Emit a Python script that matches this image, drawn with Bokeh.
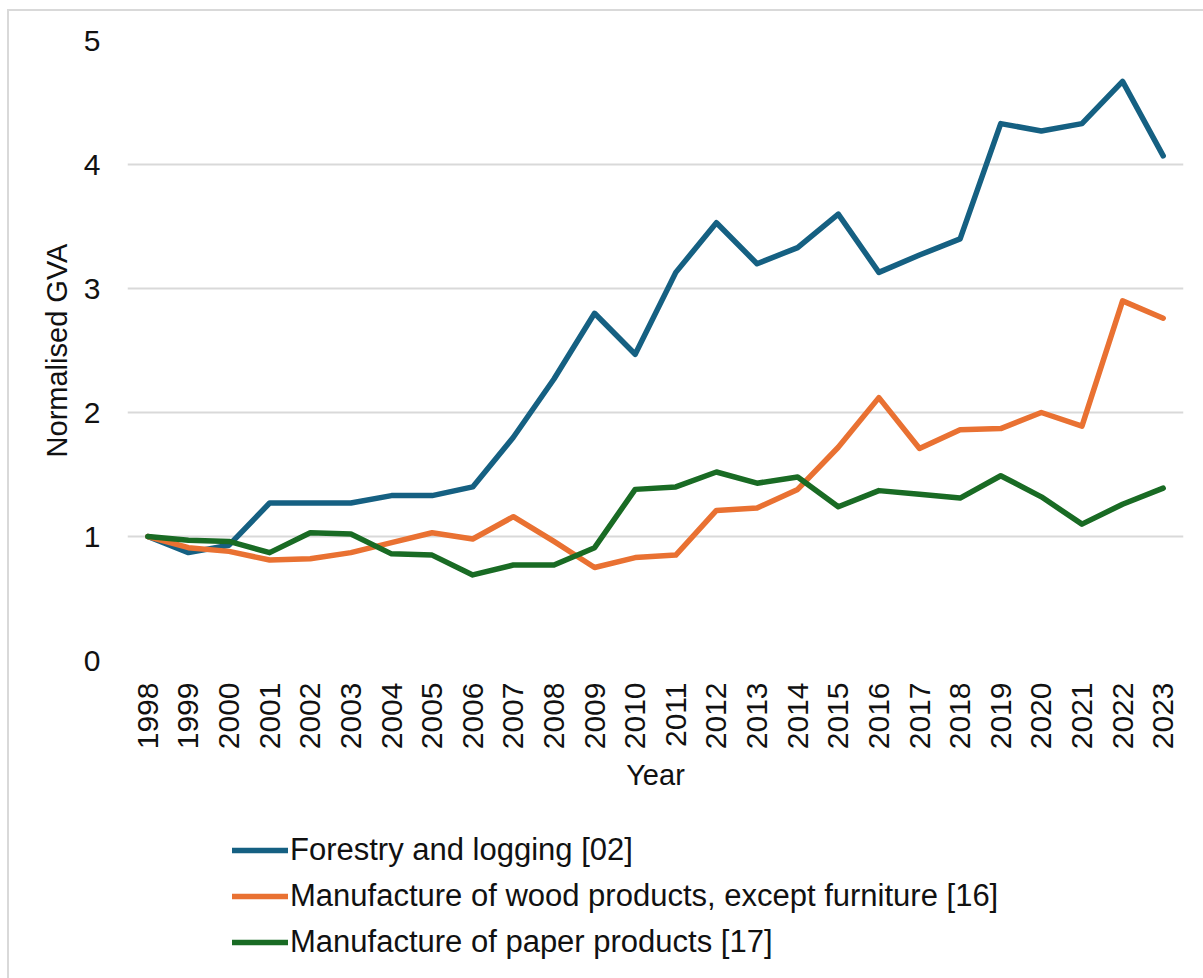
from bokeh.plotting import figure
from bokeh.layouts import column
from bokeh.models import Range1d, FixedTicker, Legend, LegendItem
from bokeh.embed import file_html
from bokeh.resources import INLINE
import math

# Normalised gross value added (1998 = 1)
years = [str(y) for y in range(1998, 2024)]

forestry_logging = [1.00, 0.87, 0.93, 1.27, 1.27, 1.27, 1.33, 1.33, 1.40, 1.80,
                    2.27, 2.80, 2.47, 3.13, 3.53, 3.20, 3.33, 3.60, 3.13, 3.27,
                    3.40, 4.33, 4.27, 4.33, 4.67, 4.07]

wood_products = [1.00, 0.91, 0.88, 0.81, 0.82, 0.87, 0.95, 1.03, 0.98, 1.16,
                 0.96, 0.75, 0.83, 0.85, 1.21, 1.23, 1.38, 1.72, 2.12, 1.71,
                 1.86, 1.87, 2.00, 1.89, 2.90, 2.76]

paper_products = [1.00, 0.97, 0.96, 0.87, 1.03, 1.02, 0.86, 0.85, 0.69, 0.77,
                  0.77, 0.91, 1.38, 1.40, 1.52, 1.43, 1.48, 1.24, 1.37, 1.34,
                  1.31, 1.49, 1.32, 1.10, 1.26, 1.39]

series_names = ["Forestry and logging [02]",
                "Manufacture of wood products, except furniture [16]",
                "Manufacture of paper products [17]"]
series_values = [forestry_logging, wood_products, paper_products]
series_colors = ["#156082", "#E97132", "#196B24"]

y_ticks = [0, 1, 2, 3, 4, 5]

FONT = "Liberation Sans"
TEXT = "#111111"
GRID = "#d9d9d9"
LINE_W = 5.5

W = 1194
MAIN_H = 810
LEG_H = 157

p = figure(
    x_range=years,
    y_range=Range1d(0, 5),
    width=W, height=MAIN_H,
    output_backend="svg",
    toolbar_location=None,
    min_border_left=118, min_border_right=20,
    min_border_top=29, min_border_bottom=MAIN_H - 29 - 620,
    background_fill_color="white",
    border_fill_color="white",
)
p.outline_line_color = None

# grid
p.xgrid.grid_line_color = None
p.ygrid.grid_line_color = GRID
p.ygrid.grid_line_width = 2
p.yaxis.ticker = FixedTicker(ticks=y_ticks)

# axes
for ax in (p.xaxis[0], p.yaxis[0]):
    ax.axis_line_color = None
    ax.major_tick_line_color = None
    ax.minor_tick_line_color = None
    ax.major_label_text_font = FONT
    ax.major_label_text_color = TEXT
    ax.major_label_text_font_size = "30px"
    ax.axis_label_text_font = FONT
    ax.axis_label_text_color = TEXT
    ax.axis_label_text_font_size = "29px"
    ax.axis_label_text_font_style = "normal"

p.xaxis.major_label_orientation = math.pi / 2
p.xaxis.major_label_standoff = 16
p.xaxis.axis_label = "Year"
p.xaxis.axis_label_standoff = 7

p.yaxis.major_label_standoff = 21
p.yaxis.axis_label = "Normalised GVA"
p.yaxis.axis_label_standoff = 8

# series lines
for name, vals, col in zip(series_names, series_values, series_colors):
    p.line(x=years, y=vals, line_color=col, line_width=LINE_W,
           line_join="round", line_cap="round")

# legend strip under the chart (its frame lines up with the chart frame)
lg = figure(
    x_range=Range1d(0, 1), y_range=Range1d(0, 1),
    width=W, height=LEG_H,
    output_backend="svg",
    toolbar_location=None,
    x_axis_location=None, y_axis_location=None,
    min_border_left=0, min_border_right=0,
    min_border_top=0, min_border_bottom=0,
    background_fill_color="white",
    border_fill_color="white",
)
lg.outline_line_color = None
lg.grid.visible = False

items = []
for name, col in zip(series_names, series_colors):
    # a short segment outside the visible range, only used as the legend swatch
    r = lg.line(x=[-10, -9], y=[-10, -10], line_color=col, line_width=LINE_W,
                line_cap="round")
    items.append(LegendItem(label=name, renderers=[r]))

legend = Legend(
    items=items,
    location=(105, 16),
    orientation="vertical",
    glyph_width=56, glyph_height=40,
    label_height=40, label_standoff=2,
    spacing=6, padding=0, margin=0,
    label_text_font=FONT, label_text_font_size="31px",
    label_text_color=TEXT,
    border_line_color=None,
    background_fill_alpha=0,
)
lg.add_layout(legend, "center")

layout = column(p, lg, spacing=0)
layout.margin = (9, 0, 0, 7)
layout.styles = {"border-left": "2px solid #d9d9d9", "border-top": "2px solid #d9d9d9"}

open("out.html", "w").write(file_html(layout, INLINE))
